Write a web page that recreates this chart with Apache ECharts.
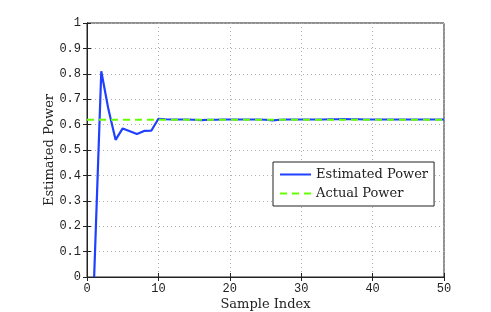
<!DOCTYPE html>
<html>
<head>
<meta charset="utf-8">
<script src="https://cdn.jsdelivr.net/npm/echarts@6/dist/echarts.min.js"></script>
<style>html,body{margin:0;padding:0;background:#fff;}#c{width:491px;height:312px;}</style>
</head>
<body>
<div id="c"></div>
<script>
var sampleIndex = [1,2,3,4,5,6,7,8,9,10,11,12,13,14,15,16,17,18,19,20,21,22,23,24,25,26,27,28,29,30,31,32,33,34,35,36,37,38,39,40,41,42,43,44,45,46,47,48,49,50];
var estimatedPower = [0,0.81,0.66,0.54,0.585,0.574,0.563,0.575,0.576,0.623,0.621,0.620,0.620,0.620,0.619,0.618,0.619,0.619,0.620,0.620,0.620,0.620,0.620,0.620,0.619,0.617,0.619,0.620,0.620,0.620,0.620,0.620,0.620,0.621,0.621,0.622,0.621,0.621,0.620,0.620,0.620,0.620,0.620,0.620,0.620,0.620,0.620,0.620,0.620,0.620];
var actualPowerX = [0,50];
var actualPower = [0.619,0.619];
var xTicks = [0,10,20,30,40,50];
var yTicks = [0,0.1,0.2,0.3,0.4,0.5,0.6,0.7,0.8,0.9,1];

var chart = echarts.init(document.getElementById('c'));
var tickFont = {fontFamily:'Liberation Mono', fontSize:12, color:'#222'};
var gridLine = {show:true, lineStyle:{color:'#b0b0b0', type:[1,3], width:1}};
chart.setOption({
  animation:false,
  grid:{left:87,right:47,top:23,bottom:35,show:true,borderColor:'#222',borderWidth:1,outerBoundsMode:'none',containLabel:false},
  legend:{
    orient:'vertical', left:273, top:162, width:154, itemWidth:31, itemHeight:10, itemGap:6,
    padding:[6,6,6,6], backgroundColor:'#fff', borderColor:'#222', borderWidth:1,
    itemStyle:{opacity:0},
    textStyle:{fontFamily:'DejaVu Serif', fontSize:13, color:'#222'},
    data:['Estimated Power','Actual Power']
  },
  xAxis:[{
    type:'value', min:0, max:50, interval:10,
    name:'Sample Index', nameLocation:'middle', nameGap:21, nameMoveOverlap:false,
    nameTextStyle:{fontFamily:'DejaVu Serif', fontSize:13, color:'#222'},
    axisLine:{show:true,onZero:false,lineStyle:{color:'#222'}},
    axisTick:{show:true,inside:true,length:4,lineStyle:{color:'#222'}},
    axisLabel:Object.assign({margin:6, formatter:function(v){return xTicks.indexOf(v)>=0?String(v):'';}}, tickFont),
    splitLine:gridLine
  },{
    type:'value', min:0, max:50, interval:10, position:'top',
    axisLine:{show:true,lineStyle:{color:'#222'}},
    axisTick:{show:true,inside:true,length:4,lineStyle:{color:'#222'}},
    axisLabel:{show:false}, splitLine:{show:false}
  }],
  yAxis:[{
    type:'value', min:0, max:1, interval:0.1,
    name:'Estimated Power', nameLocation:'middle', nameGap:31, nameMoveOverlap:false,
    nameTextStyle:{fontFamily:'DejaVu Serif', fontSize:13, color:'#222'},
    axisLine:{show:true,onZero:false,lineStyle:{color:'#222'}},
    axisTick:{show:true,inside:true,length:4,lineStyle:{color:'#222'}},
    axisLabel:Object.assign({margin:6, formatter:function(v){var r=Math.round(v*10)/10; return yTicks.indexOf(r)>=0?String(r):'';}}, tickFont),
    splitLine:gridLine
  },{
    type:'value', min:0, max:1, interval:0.1, position:'right',
    axisLine:{show:true,lineStyle:{color:'#222'}},
    axisTick:{show:true,inside:true,length:4,lineStyle:{color:'#222'}},
    axisLabel:{show:false}, splitLine:{show:false}
  }],
  series:[{
    name:'Estimated Power', type:'line', symbol:'none',
    data:sampleIndex.map(function(x,i){return [x,estimatedPower[i]];}),
    lineStyle:{color:'#2040ff', width:2.2}, itemStyle:{color:'#2040ff'}, z:2
  },{
    name:'Actual Power', type:'line', symbol:'none',
    data:actualPowerX.map(function(x,i){return [x,actualPower[i]];}),
    lineStyle:{color:'#66ff00', width:2.2, type:[7,5]}, itemStyle:{color:'#66ff00'}, z:3
  }]
});
</script>
</body>
</html>
